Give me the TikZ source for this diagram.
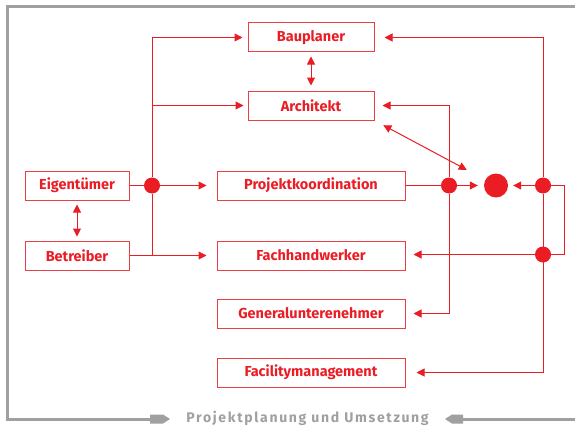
\documentclass[tikz,border=0pt]{standalone}
\usepackage{fontspec}
\setmainfont{Fira Sans}
\usetikzlibrary{arrows.meta,calc}

\definecolor{rot}{RGB}{234,28,36}
\definecolor{grau}{RGB}{160,160,162}

\begin{document}
\begin{tikzpicture}[x=1pt, y=-1pt,
	box/.style={draw=rot!85, line width=1pt, minimum height=29pt, inner sep=0pt,
		font=\bfseries\fontsize{14.5}{16}\selectfont, text=rot},
	dot/.style={circle, fill=rot, inner sep=0pt, minimum size=16pt},
	arr/.style={rot, line width=1pt, -{Triangle[length=8pt,width=8pt]}},
	dbl/.style={rot, line width=1pt, {Triangle[length=8pt,width=8pt]}-{Triangle[length=8pt,width=8pt]}},
	con/.style={rot, line width=1pt}]
	\useasboundingbox (0,0) rectangle (575,428);
	% frame
	\draw [grau, line width=3pt] (575,7) -- (7,7) -- (7,419) -- (150,419);
	\draw [grau, line width=3pt] (463,419) -- (575,419);
	\fill [grau] (150,414.5) -- (163,414.5) -- (170,419) -- (163,423.5) -- (150,423.5) -- cycle;
	\fill [grau] (463,414.5) -- (452,414.5) -- (445,419) -- (452,423.5) -- (463,423.5) -- cycle;
	\node [font=\bfseries\fontsize{14}{16}\selectfont, text=grau] (titel) at (307.5,418) {\addfontfeatures{LetterSpace=12}Projektplanung und Umsetzung};
	% boxes
	\node [box, minimum width=126pt] (bau) at (311,37.5) {Bauplaner};
	\node [box, minimum width=126pt] (arch) at (311,105.5) {Architekt};
	\node [box, minimum width=104pt] (eig) at (77,185.5) {Eigentümer};
	\node [box, minimum width=104pt] (betr) at (77,255.5) {Betreiber};
	\node [box, minimum width=188pt] (pk) at (311,185.5) {Projektkoordination};
	\node [box, minimum width=188pt] (fach) at (311,255.5) {Fachhandwerker};
	\node [box, minimum width=188pt] (gen) at (311,313.5) {Generalunterenehmer};
	\node [box, minimum width=188pt] (fac) at (311,372.5) {Facilitymanagement};
	% dots
	\node [dot] (dl) at (152,185.5) {};
	\node [dot] (dm) at (449,185.5) {};
	\node [dot, minimum size=24pt] (mitte) at (496,185.5) {};
	\node [dot] (dr) at (543,185.5) {};
	\node [dot] (dr2) at (543,254.5) {};
	\coordinate (schleife) at (564,254.5);
	% left side
	\draw [con] (eig.east) -- (dl);
	\draw [arr, shorten >=10pt] (dl) -- (pk.west);
	\draw [arr, shorten >=5pt] (dl) |- (bau.west);
	\draw [arr, shorten >=4pt] (dl) |- (arch.west);
	\draw [con] (dl) -- (dl |- betr.east);
	\draw [arr, shorten >=10pt] (betr.east) -- (fach.west);
	\draw [dbl, shorten <=4pt, shorten >=4pt] (eig.south) -- (betr.north);
	\draw [dbl, shorten <=4pt, shorten >=5pt] (bau.south) -- (arch.south |- arch.north);
	% right side
	\draw [con] (pk.east) -- (dm);
	\draw [arr, shorten >=6pt] (dm) -- (mitte);
	\draw [arr, shorten >=8pt] (dm) |- (arch.east);
	\draw [arr, shorten >=8pt] (dm) |- (gen.east);
	\draw [arr, shorten >=5pt] (dr) -- (mitte);
	\draw [arr, shorten >=10pt] (dr) |- (bau.east);
	\draw [arr, shorten >=11pt] (dr) |- (fac.east);
	\draw [con] (dr) -| (schleife) -- (dr2);
	\draw [arr, shorten >=8pt] (dr2) -- (fach.east |- dr2);
	\draw [dbl, shorten <=10pt, shorten >=21pt] (arch.south east) -- (mitte);
\end{tikzpicture}
\end{document}
